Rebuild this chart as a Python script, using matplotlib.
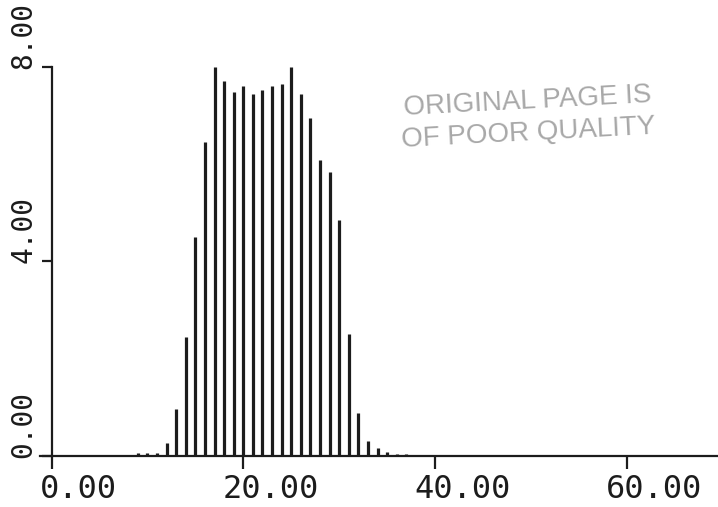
import matplotlib
matplotlib.use("Agg")
import matplotlib.pyplot as plt
import matplotlib.transforms as mtransforms

# histogram counts per integer bin
bins = list(range(8, 39))
counts = [0.03, 0.06, 0.07, 0.07, 0.27, 0.97, 2.45, 4.50, 6.46, 8.00,
          7.70, 7.49, 7.60, 7.43, 7.52, 7.60, 7.65, 8.00, 7.43, 6.95,
          6.08, 5.84, 4.86, 2.51, 0.88, 0.31, 0.16, 0.08, 0.05, 0.04, 0.03]

xticks = [0, 20, 40, 60]
xtick_labels = ["0.00", "20.00", "40.00", "60.00"]
yticks = [0, 4, 8]
ytick_labels = ["0.00", "4.00", "8.00"]

ink = "#1c1c1c"
fig = plt.figure(figsize=(7.18, 5.07), dpi=100)
ax = fig.add_axes([40 / 718, 51 / 507, 678 / 718, 399 / 507])

ax.vlines(bins, 0, counts, color=ink, lw=2.3)

ax.set_xlim(-1.2, 69.5)
ax.set_ylim(0, 8.2)

for s in ["top", "right"]:
    ax.spines[s].set_visible(False)
ax.spines["left"].set_position(("data", 0))
ax.spines["left"].set_bounds(0, 8)
ax.spines["left"].set_color(ink)
ax.spines["bottom"].set_color(ink)
ax.spines["left"].set_linewidth(1.6)
ax.spines["bottom"].set_linewidth(1.6)

ax.set_xticks(xticks)
ax.set_xticklabels(xtick_labels)
ax.set_yticks(yticks)
ax.set_yticklabels(ytick_labels)
ax.tick_params(axis="x", direction="out", length=9, width=1.6, color=ink,
               labelcolor=ink, labelsize=23, pad=4)
ax.tick_params(axis="y", direction="out", length=7, width=1.6, color=ink,
               labelcolor=ink, labelsize=20, pad=3)

for lab in ax.get_xticklabels():
    lab.set_fontfamily("DejaVu Sans Mono")
    lab.set_transform(lab.get_transform() +
                      mtransforms.ScaledTranslation(0.27, 0, fig.dpi_scale_trans))
for lab in ax.get_yticklabels():
    lab.set_fontfamily("DejaVu Sans Mono")
    lab.set_rotation(90)
    lab.set_va("bottom")
    lab.set_transform(lab.get_transform() +
                      mtransforms.ScaledTranslation(0, -0.02, fig.dpi_scale_trans))

# rubber stamp over the plot area
fig.text(528 / 718, 1 - 117 / 507, "ORIGINAL PAGE IS\nOF POOR QUALITY",
         ha="center", va="center", fontsize=20, color="#a8a8a8",
         family="Liberation Sans", rotation=3, linespacing=1.3)

fig.savefig("out.png", dpi=100)
